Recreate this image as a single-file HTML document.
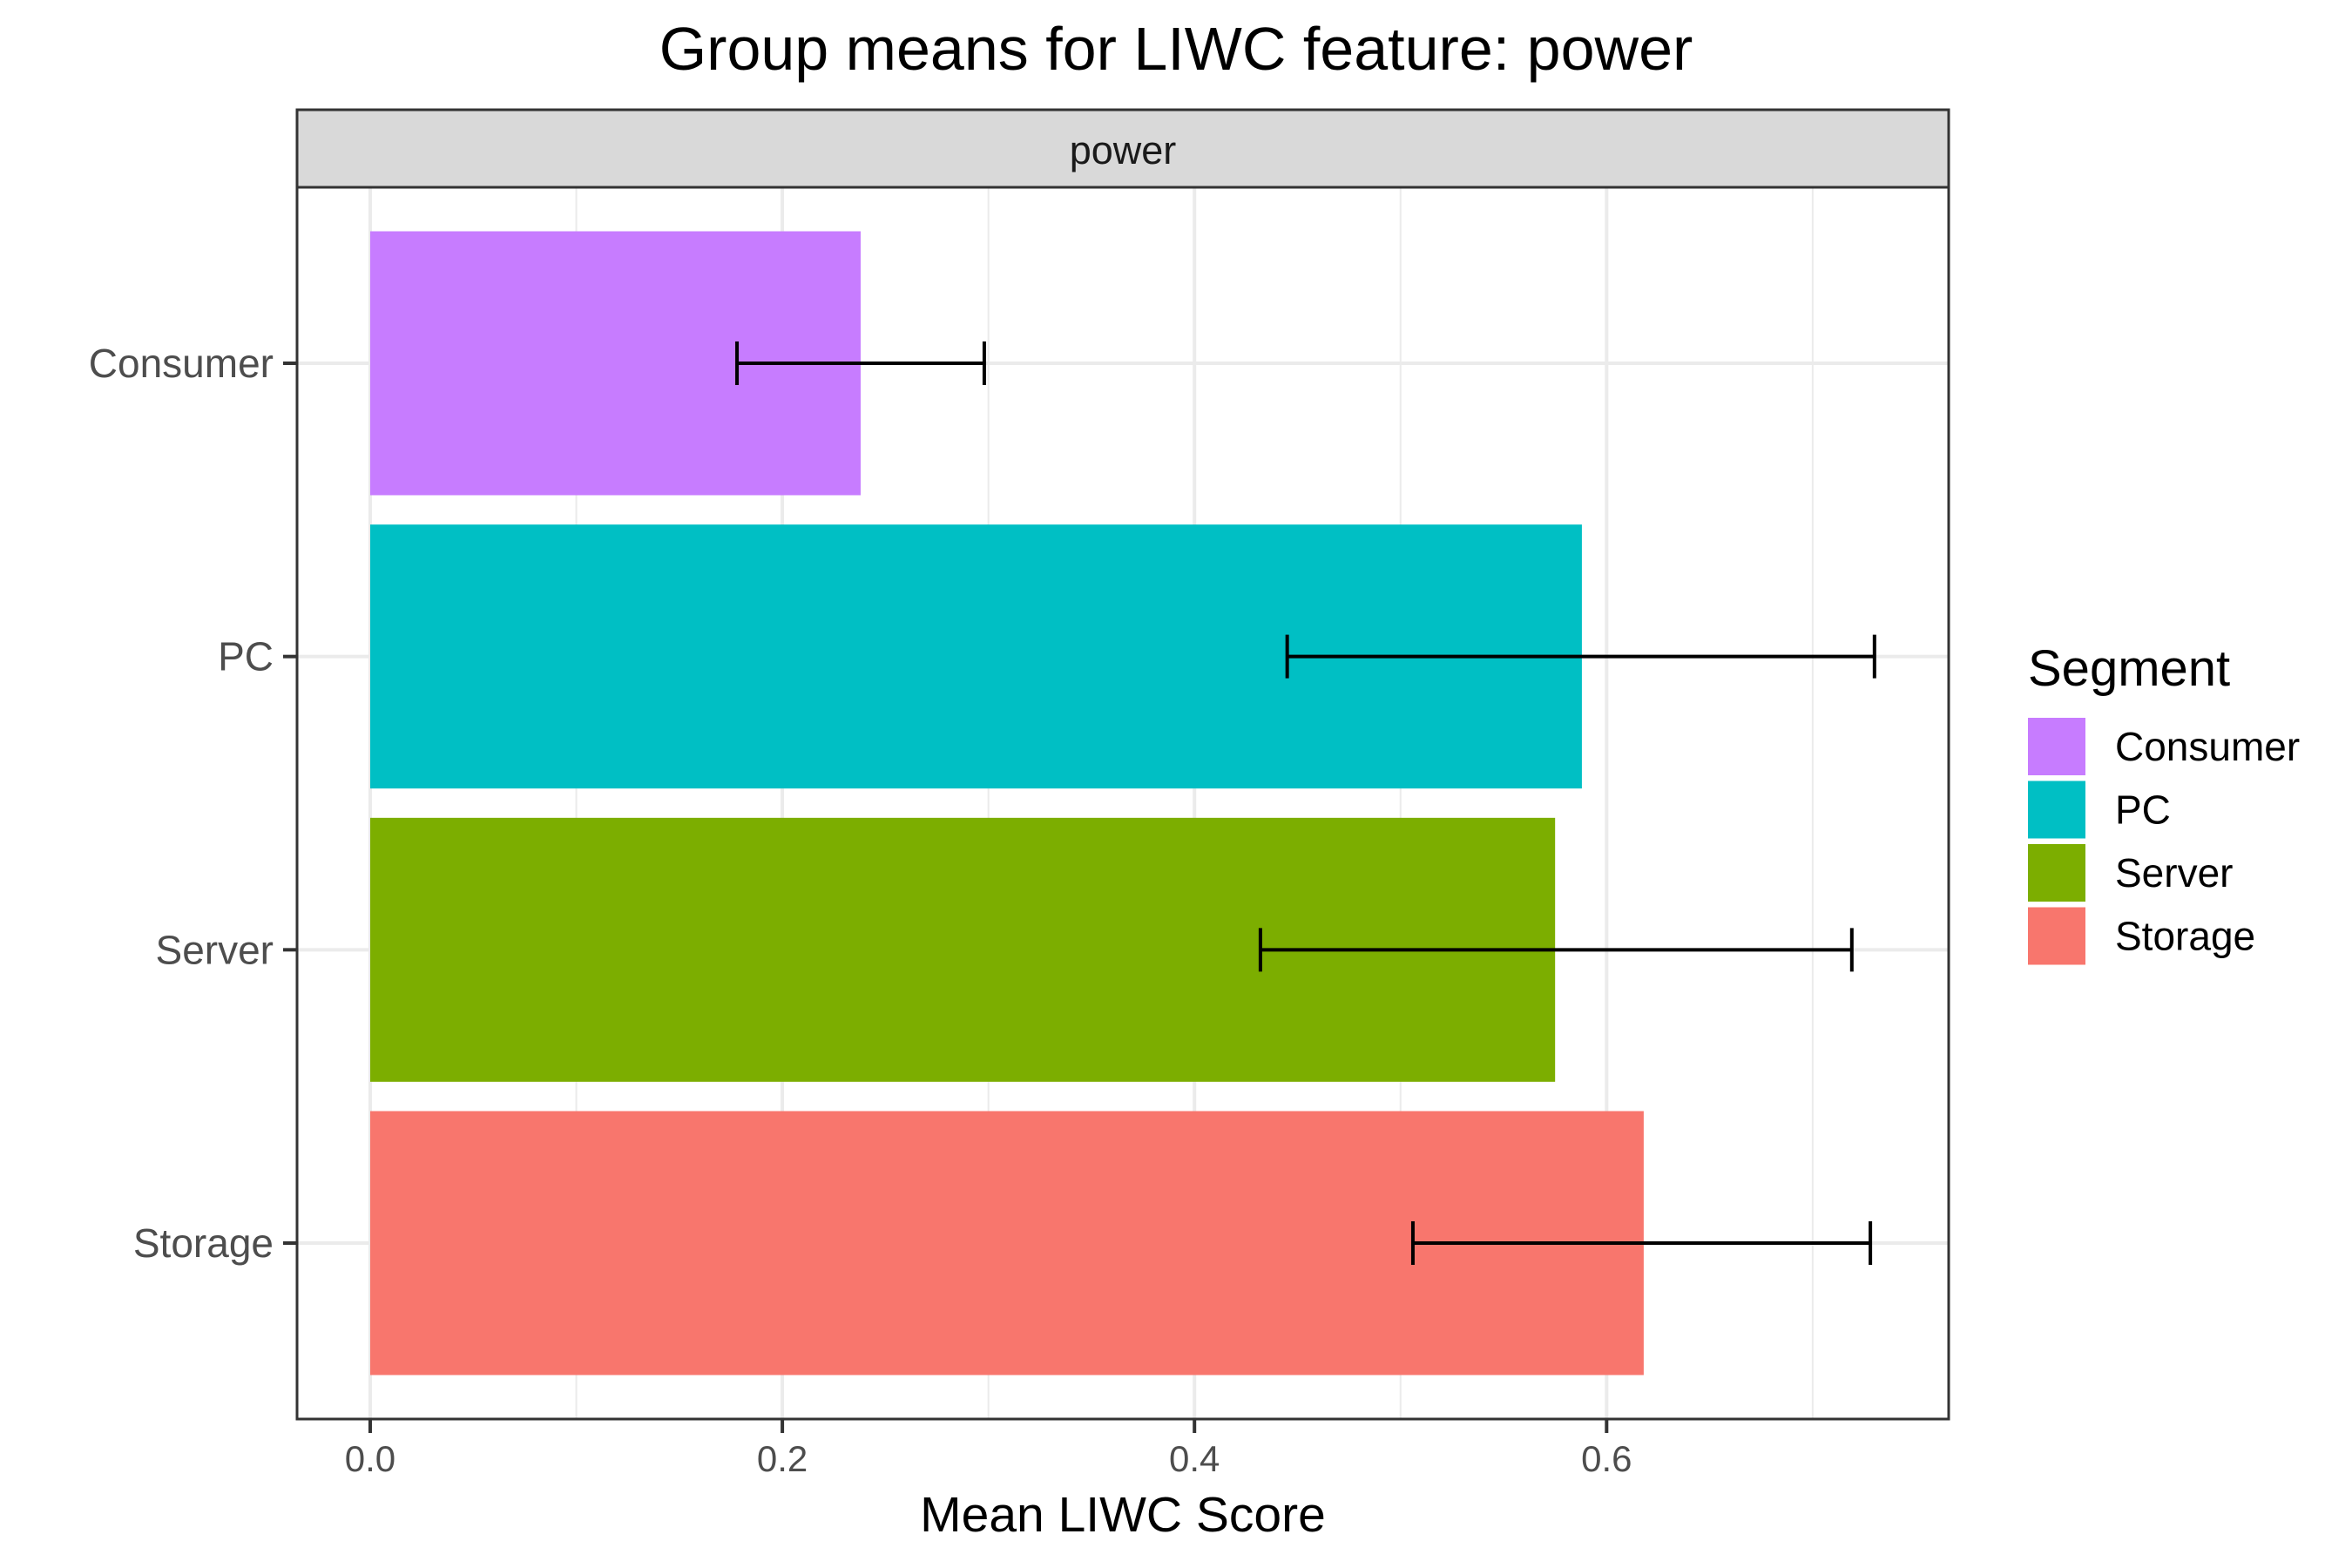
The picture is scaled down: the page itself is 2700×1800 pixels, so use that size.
<!DOCTYPE html>
<html><head><meta charset="utf-8"><style>
html,body{margin:0;padding:0;background:#fff}
svg{display:block;font-family:"Liberation Sans",Arial,sans-serif}
</style></head><body>
<svg id="chart" width="2700" height="1800" viewBox="0 0 2700 1800" xmlns="http://www.w3.org/2000/svg">
<text x="1350" y="80" font-size="70" text-anchor="middle" fill="#000">Group means for LIWC feature: power</text>
<g id="panel"></g>
<rect x="341" y="126" width="1896" height="89" fill="#d9d9d9" stroke="#333" stroke-width="3"/>
<text x="1289" y="188" font-size="45" text-anchor="middle" fill="#1a1a1a">power</text>
<text x="1289" y="1758" font-size="57" text-anchor="middle" fill="#000">Mean LIWC Score</text>
<g id="legend">
<text x="2328" y="787" font-size="58" fill="#000">Segment</text>
</g>
</svg>
<script>
const categories = ["Consumer","PC","Server","Storage"];
const means = [0.238, 0.588, 0.575, 0.618];
const lower = [0.178, 0.445, 0.432, 0.506];
const upper = [0.298, 0.730, 0.719, 0.728];
const colors = ["#C77CFF","#00BFC4","#7CAE00","#F8766D"];
const xTicks = [0, 0.2, 0.4, 0.6];
const xTickLabels = ["0.0","0.2","0.4","0.6"];
const xMinor = [0.1, 0.3, 0.5, 0.7];

const NS = "http://www.w3.org/2000/svg";
const L = 341, R = 2237, T = 215, B = 1629;
const xMin = -0.0355, xMax = 0.766;
function xs(v){ return L + (v - xMin) / (xMax - xMin) * (R - L); }
function ys(i){ return T + (i + 1 - 0.4) / 4.2 * (B - T); }
const bandH = 0.9 / 4.2 * (B - T);
function mk(tag, attrs, parent){ const e = document.createElementNS(NS, tag); for (const k in attrs) e.setAttribute(k, attrs[k]); parent.appendChild(e); return e; }
const panel = document.getElementById('panel');
const svg = document.getElementById('chart');

mk('rect', {x:L, y:T, width:R-L, height:B-T, fill:'#fff'}, panel);
xMinor.forEach(v => {
  const g = mk('line', {x1:xs(v), x2:xs(v), y1:T, y2:B, stroke:'#ebebeb', 'stroke-width':2}, panel);
  
  
});
xTicks.forEach(v => {
  const g = mk('line', {x1:xs(v), x2:xs(v), y1:T, y2:B, stroke:'#ebebeb', 'stroke-width':4}, panel);
  
  
});
categories.forEach((c, i) => {
  const g = mk('line', {x1:L, x2:R, y1:ys(i), y2:ys(i), stroke:'#ebebeb', 'stroke-width':4}, panel);
  
  
});
categories.forEach((c, i) => {
  const y = ys(i);
  const bar = mk('rect', {x:xs(0), y:y - bandH/2, width:xs(means[i]) - xs(0), height:bandH, fill:colors[i]}, panel);
  
  
  const eg = mk('g', {stroke:'#000', 'stroke-width':4, fill:'none'}, panel);
  
  
  mk('line', {x1:xs(lower[i]), x2:xs(upper[i]), y1:y, y2:y}, eg);
  mk('line', {x1:xs(lower[i]), x2:xs(lower[i]), y1:y-25, y2:y+25}, eg);
  mk('line', {x1:xs(upper[i]), x2:xs(upper[i]), y1:y-25, y2:y+25}, eg);
  const tk = mk('line', {x1:325, x2:L, y1:y, y2:y, stroke:'#333', 'stroke-width':4}, svg);
  
  
  const lb = mk('text', {x:314, y:y + 16, 'font-size':46, 'text-anchor':'end', fill:'#4d4d4d'}, svg);
  lb.textContent = c;
  
  
});
mk('rect', {x:L, y:T, width:R-L, height:B-T, fill:'none', stroke:'#333', 'stroke-width':3}, panel);
xTicks.forEach((v, i) => {
  const tk = mk('line', {x1:xs(v), x2:xs(v), y1:B, y2:B+16, stroke:'#333', 'stroke-width':4}, svg);
  
  
  const lb = mk('text', {x:xs(v), y:1689, 'font-size':42, 'text-anchor':'middle', fill:'#4d4d4d'}, svg);
  lb.textContent = xTickLabels[i];
  
  
});
const legend = document.getElementById('legend');
categories.forEach((c, i) => {
  const y0 = 824 + i * 72.5;
  const k = mk('rect', {x:2328, y:y0, width:66, height:66, fill:colors[i]}, legend);
  
  
  const t = mk('text', {x:2428, y:y0 + 49, 'font-size':46, fill:'#000'}, legend);
  t.textContent = c;
  
  
});
</script>
</body></html>
